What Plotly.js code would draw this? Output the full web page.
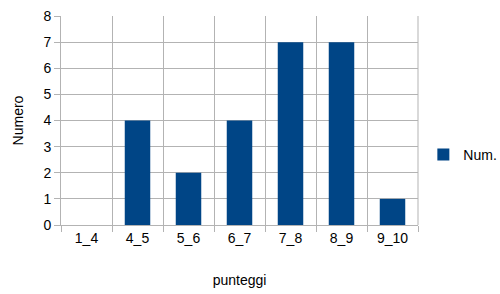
<!DOCTYPE html>
<html><head><meta charset="utf-8">
<script src="https://cdn.plot.ly/plotly-3.0.1.min.js"></script>
<style>html,body{margin:0;padding:0;background:#fff}#chart{width:500px;height:294px}</style>
</head><body><div id="chart"></div>
<script>
const categories = ["1_4","4_5","5_6","6_7","7_8","8_9","9_10"];
const values = [0,4,2,4,7,7,1];
const seriesName = "Num.";

const fontFam = "Liberation Sans, Arial, sans-serif";
Plotly.newPlot("chart", [{
  type: "bar", x: categories, y: values, name: seriesName,
  marker: {color: "#004586"}, width: 0.5, showlegend: true
}], {
  width: 500, height: 294,
  margin: {l: 61, r: 82, t: 16, b: 69, autoexpand: false},
  paper_bgcolor: "#fff", plot_bgcolor: "#fff",
  font: {family: fontFam, size: 14, color: "#000"},
  bargap: 0.5,
  xaxis: {
    type: "category", tickson: "boundaries", ticks: "outside", ticklen: 6,
    tickcolor: "#b3b3b3", showgrid: true, gridcolor: "#b3b3b3",
    showline: true, linecolor: "#b3b3b3", mirror: false, automargin: false,
    title: {text: "punteggi", font: {size: 14}, standoff: 30},
    tickfont: {size: 14}, zeroline: false
  },
  yaxis: {
    range: [0, 8], dtick: 1, ticks: "outside", ticklen: 6, tickcolor: "#b3b3b3",
    showgrid: true, gridcolor: "#b3b3b3", showline: true, linecolor: "#b3b3b3",
    zeroline: false, automargin: false,
    title: {text: "Numero", font: {size: 14}, standoff: 16},
    tickfont: {size: 14}
  },
  legend: {x: 1.015, y: 0.335, yanchor: "middle", xanchor: "left", font: {size: 14},
    itemwidth: 30},
  shapes: [{type: "line", xref: "paper", yref: "paper", x0: 1, x1: 1, y0: 0, y1: 1,
    line: {color: "#b3b3b3", width: 1}}]
}, {displayModeBar: false, staticPlot: true});
</script></body></html>
